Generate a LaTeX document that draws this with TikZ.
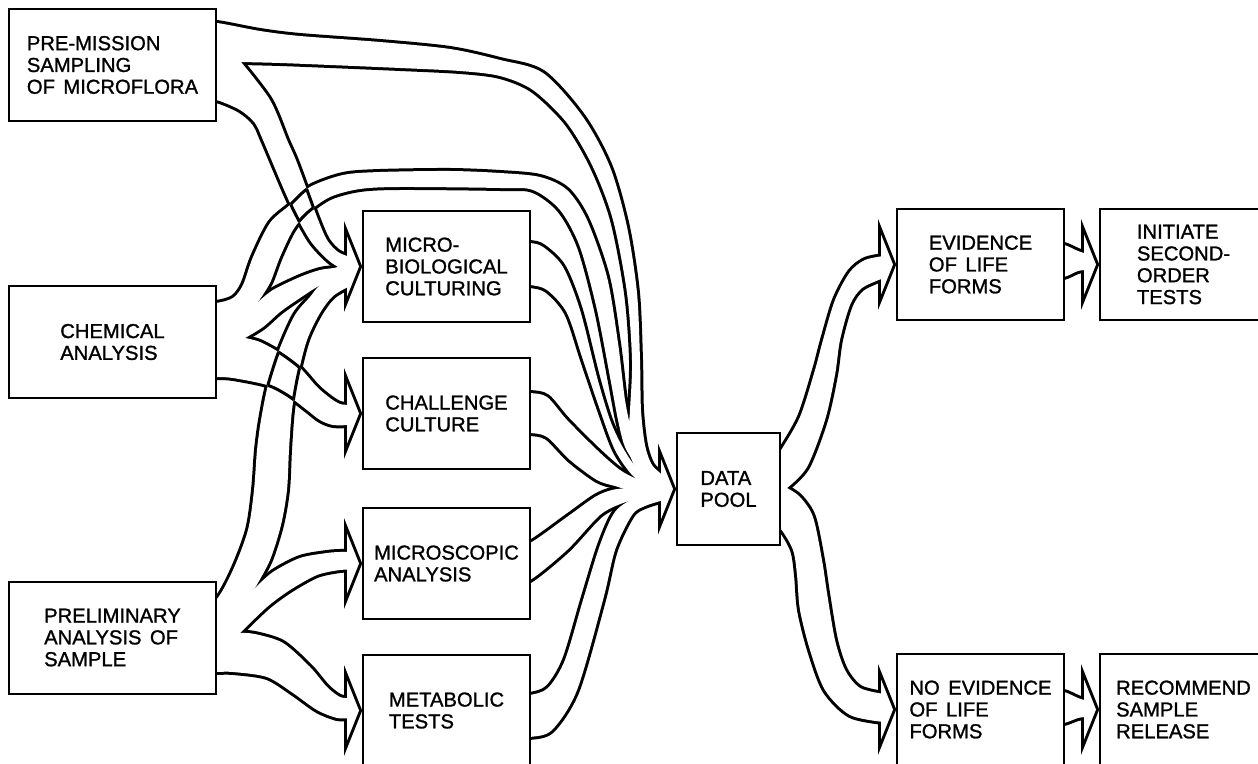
\documentclass[tikz,border=0pt]{standalone}
\usepackage{fontspec}
\setmainfont{Liberation Sans}
\newfontfamily\boxfont{Liberation Sans}[RawFeature={embolden=1.2}]
\newcommand{\boxtype}{\boxfont\fontsize{10.1pt}{10.9pt}\selectfont\spaceskip 0.42em\relax}
\usetikzlibrary{positioning, calc, backgrounds}

% outlines of the broad arrows (px, y going down)
\newcommand{\rPone}{plot[smooth] coordinates {(195,23) (217,23) (260,31) (300,36) (380,42) (450,49) (500,60) (543,73) (583,117) (610,167) (627,227) (637,293) (640,360) (641,410) (645,445) (652,465) (664,476)} -- plot[smooth] coordinates {(664,484) (648,480) (635,467) (628,445) (630,410) (632,360) (627,293) (613,220) (593,167) (567,123) (533,90) (500,76) (460,71) (400,68) (330,65) (280,63) (241,62)} -- (200,90) -- cycle}
\newcommand{\rPtwo}{(200,38) -- plot[smooth] coordinates {(241,62) (270,100) (287,140) (297,163) (317,217) (327,240) (338,252) (350,257)} -- plot[smooth] coordinates {(350,274) (338,267) (327,259) (310,240) (290,203) (263,140) (255,123) (240,110) (216,100) (195,100)} -- cycle}
\newcommand{\rCone}{plot[smooth] coordinates {(195,303) (216,303) (233,298) (243,285) (253,257) (270,223) (290,205) (310,187) (343,175) (380,172) (450,171) (500,173) (540,177) (567,190) (587,220) (607,277) (618,343) (625,400) (632,432) (642,458) (652,471) (664,478)} -- plot[smooth] coordinates {(664,486) (648,480) (638,468) (625,447) (618,420) (610,377) (597,310) (580,247) (560,210) (533,190) (500,188) (400,187) (360,189) (330,197) (307,213) (293,230) (280,257) (270,283) (258,302)} -- (200,340) -- cycle}
\newcommand{\rCtwo}{(200,312) -- plot[smooth] coordinates {(258,302) (273,290) (300,277) (320,270) (338,267) (350,259)} -- plot[smooth] coordinates {(350,284) (335,282) (319,286) (297,300) (280,312) (263,327) (245,338)} -- (200,362) -- cycle}
\newcommand{\rCthree}{(200,345) -- plot[smooth] coordinates {(245,338) (260,342) (280,353) (300,368) (317,387) (330,398) (340,404) (350,405)} -- plot[smooth] coordinates {(350,425) (333,425) (320,420) (307,410) (287,395) (267,385) (233,378) (216,377) (195,377)} -- cycle}
\newcommand{\rLone}{plot[smooth] coordinates {(195,608) (216,600) (233,570) (248,530) (254,490) (257,450) (261,420) (268,385) (280,348) (295,315) (310,297) (319,286) (335,275) (350,268)} -- plot[smooth] coordinates {(350,286) (333,296) (320,313) (307,340) (298,375) (292,410) (289,450) (287,490) (281,525) (270,560) (255,588)} -- (200,620) -- cycle}
\newcommand{\rLtwo}{(200,615) -- plot[smooth] coordinates {(255,588) (273,572) (300,558) (327,553) (340,552) (350,552)} -- plot[smooth] coordinates {(350,570) (340,570) (317,575) (290,590) (267,607) (240,633)} -- (200,655) -- cycle}
\newcommand{\rLthree}{(200,625) -- plot[smooth] coordinates {(240,633) (255,634) (283,643) (310,667) (327,687) (340,697) (350,698)} -- plot[smooth] coordinates {(350,718) (337,718) (317,710) (293,693) (267,677) (233,672) (216,672) (195,672)} -- cycle}
\newcommand{\rMone}{plot[smooth] coordinates {(515,243) (530,243) (543,247) (563,267) (580,310) (597,377) (610,420) (622,446) (635,466) (648,476) (664,481)} -- plot[smooth] coordinates {(664,490) (648,487) (632,475) (615,450) (600,410) (583,360) (567,313) (547,290) (530,285) (515,285)} -- cycle}
\newcommand{\rHone}{plot[smooth] coordinates {(515,393) (530,393) (547,397) (567,420) (597,450) (620,470) (640,480) (664,484)} -- plot[smooth] coordinates {(664,493) (630,490) (615,486) (597,480) (570,460) (547,437) (530,433) (515,433)} -- cycle}
\newcommand{\rSone}{plot[smooth] coordinates {(515,543) (530,543) (567,517) (595,497) (612,490) (630,488) (664,487)} -- plot[smooth] coordinates {(664,496) (640,499) (623,503) (600,515) (567,550) (530,580) (515,580)} -- cycle}
\newcommand{\rTone}{plot[smooth] coordinates {(515,695) (530,695) (548,688) (565,660) (583,600) (600,545) (615,512) (635,498) (664,490)} -- plot[smooth] coordinates {(664,500) (645,506) (632,515) (615,550) (603,600) (577,690) (552,730) (530,737) (515,737)} -- cycle}
\newcommand{\rDone}{plot[smooth] coordinates {(770,468) (780,452) (800,417) (815,370) (823,340) (835,300) (850,272) (865,260) (884,256)} -- plot[smooth] coordinates {(884,278) (862,288) (850,305) (840,340) (835,375) (825,420) (807,467) (787,488)} -- (765,500) -- cycle}
\newcommand{\rDtwo}{(765,476) -- plot[smooth] coordinates {(787,488) (800,497) (813,517) (822,560) (827,593) (835,640) (845,670) (860,688) (884,694)} -- plot[smooth] coordinates {(884,722) (850,715) (825,690) (810,650) (800,610) (797,575) (793,550) (780,528) (765,520)} -- cycle}
\newcommand{\rEone}{plot[smooth] coordinates {(1050,245) (1064,245) (1078,251) (1087,254)} -- plot[smooth] coordinates {(1087,270) (1078,271) (1064,277) (1050,277)} -- cycle}
\newcommand{\rEtwo}{plot[smooth] coordinates {(1050,692) (1064,692) (1078,698) (1087,701)} -- plot[smooth] coordinates {(1087,717) (1078,718) (1064,723) (1050,723)} -- cycle}
\newcommand{\rhead}[1]{($(#1.west)+(-3,0)$) -- ++(-12,-30) -- ++(0,60) -- cycle}

% every arrow once, in the given style
\newcommand{\drawbands}[1]{%
	\path[#1] \rPone; \path[#1] \rPtwo;
	\path[#1] \rCone; \path[#1] \rCtwo; \path[#1] \rCthree;
	\path[#1] \rLone; \path[#1] \rLtwo; \path[#1] \rLthree;
	\path[#1] \rMone; \path[#1] \rHone; \path[#1] \rSone; \path[#1] \rTone;
	\path[#1] \rDone; \path[#1] \rDtwo; \path[#1] \rEone; \path[#1] \rEtwo;
	\path[#1] \rhead{micro}; \path[#1] \rhead{chall}; \path[#1] \rhead{scopic};
	\path[#1] \rhead{metab}; \path[#1] \rhead{dp}; \path[#1] \rhead{evid};
	\path[#1] \rhead{init}; \path[#1] \rhead{noevid}; \path[#1] \rhead{recom};
}

\begin{document}
\begin{tikzpicture}[x=0.5pt, y=-0.5pt,
	box/.style={draw, line width=1pt, fill=white, align=left, inner sep=0pt, font=\boxtype},
	srcbox/.style={box, minimum width=103.5pt, minimum height=56pt},
	stepbox/.style={box, minimum width=83.5pt, minimum height=55.5pt},
	ink/.style={fill=black, draw=black, line width=3pt},
	blank/.style={fill=white},
	rim/.style={draw=black, line width=1.5pt}]

	\useasboundingbox (0,0) rectangle (1258,764);
	\clip (0,0) rectangle (1258,764);

	% Define nodes
	\node [srcbox] (pre) at (112.5,65) {PRE-MISSION\\SAMPLING\\OF MICROFLORA};
	\node [srcbox] (chem) at (112.5,342) {CHEMICAL\\ANALYSIS};
	\node [srcbox] (prelim) at (112.5,637.5) {PRELIMINARY\\ANALYSIS OF\\SAMPLE};
	\node [stepbox] (micro) at (446.5,266.5) {MICRO-\\BIOLOGICAL\\CULTURING};
	\node [stepbox, below=17pt of micro] (chall) {CHALLENGE\\CULTURE};
	\node [stepbox, below=18.5pt of chall] (scopic) {MICROSCOPIC\\ANALYSIS};
	\node [stepbox, below=17pt of scopic] (metab) {METABOLIC\\TESTS};
	\node [box, minimum width=51.5pt, minimum height=56pt] (dp) at (728.5,489) {DATA\\POOL};
	\node [stepbox] (evid) at (980.5,264.5) {EVIDENCE\\OF LIFE\\FORMS};
	\node [stepbox, right=17pt of evid] (init) {INITIATE\\SECOND-\\ORDER\\TESTS};
	\node [stepbox] (noevid) at (980.5,709.5) {NO EVIDENCE\\OF LIFE\\FORMS};
	\node [stepbox, right=17pt of noevid] (recom) {RECOMMEND\\SAMPLE\\RELEASE};

	% Broad arrows under the boxes: black outline first, then white inside
	\begin{pgfonlayer}{background}
		\drawbands{ink}
		\drawbands{blank}
		% lines where two arrows cross
		\begin{scope} \clip \rPtwo; \path[rim] \rCone; \end{scope}
		\begin{scope} \clip \rCone; \path[rim] \rPtwo; \end{scope}
		\begin{scope} \clip \rLone; \path[rim] \rCthree; \end{scope}
		\begin{scope} \clip \rCthree; \path[rim] \rLone; \end{scope}
	\end{pgfonlayer}

\end{tikzpicture}
\end{document}
